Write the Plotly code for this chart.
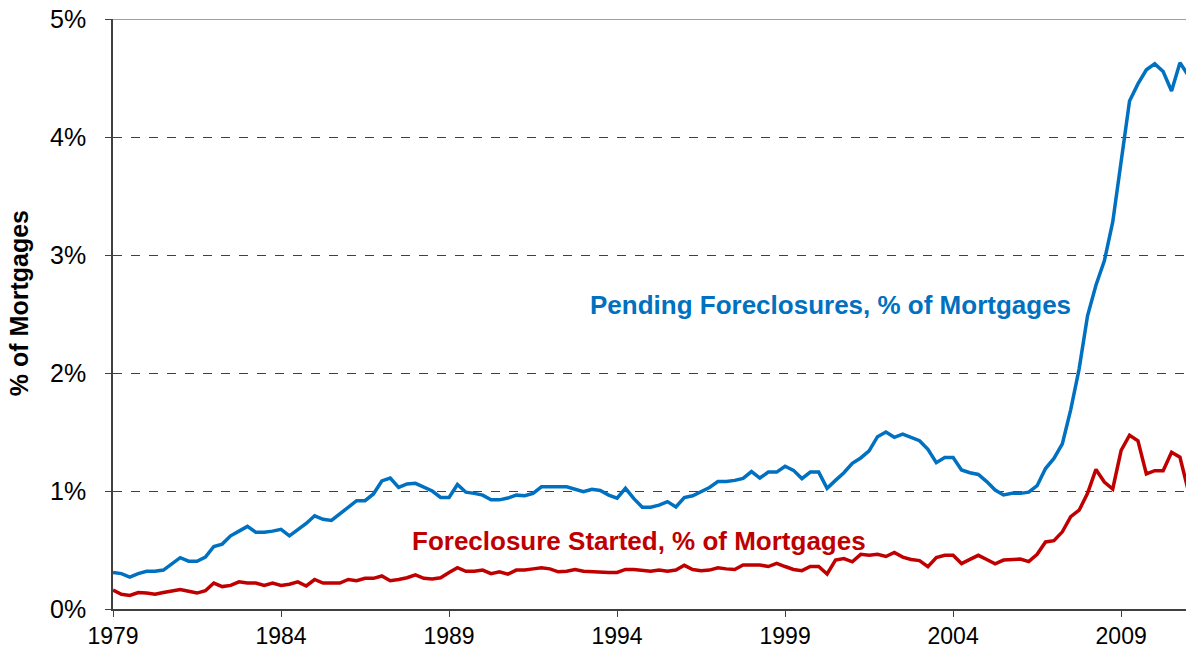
"""Pending foreclosures vs. foreclosures started, % of mortgages (quarterly)."""

import plotly.graph_objects as go

START_YEAR = 1979

# quarterly values, % of mortgages, 1979Q1 onward
pending = [
    0.31, 0.30, 0.27, 0.30, 0.32, 0.32, 0.33, 0.38, 0.435, 0.405,
    0.405, 0.44, 0.53, 0.55, 0.62, 0.66, 0.70, 0.65, 0.65, 0.66,
    0.675, 0.62, 0.675, 0.725, 0.79, 0.76, 0.75, 0.805, 0.867, 0.918,
    0.918, 0.975, 1.085, 1.11, 1.03, 1.06, 1.065, 1.03, 1.0, 0.945,
    0.945, 1.055, 0.99, 0.98, 0.965, 0.925, 0.925, 0.94, 0.965, 0.96,
    0.98, 1.035, 1.035, 1.035, 1.035, 1.015, 0.995, 1.015, 1.005, 0.965,
    0.94, 1.023, 0.935, 0.862, 0.862, 0.88, 0.91, 0.865, 0.945, 0.96,
    0.995, 1.03, 1.08, 1.08, 1.09, 1.107, 1.165, 1.11, 1.16, 1.16,
    1.21, 1.175, 1.105, 1.16, 1.16, 1.023, 1.09, 1.155, 1.235, 1.28,
    1.34, 1.46, 1.50, 1.455, 1.483, 1.455, 1.426, 1.353, 1.24, 1.283,
    1.283, 1.178, 1.155, 1.14, 1.08, 1.008, 0.966, 0.98, 0.98, 0.99,
    1.045, 1.19, 1.276, 1.40, 1.69, 2.035, 2.485, 2.744, 2.95, 3.28,
    3.80, 4.305, 4.45, 4.57, 4.62, 4.555, 4.39, 4.63, 4.52,
]

started = [
    0.16, 0.125, 0.115, 0.14, 0.135, 0.125, 0.14, 0.15, 0.165, 0.15,
    0.135, 0.155, 0.22, 0.19, 0.20, 0.23, 0.22, 0.22, 0.20, 0.22,
    0.20, 0.21, 0.23, 0.195, 0.25, 0.22, 0.22, 0.22, 0.25, 0.24,
    0.26, 0.26, 0.28, 0.24, 0.25, 0.265, 0.29, 0.26, 0.255, 0.265,
    0.31, 0.35, 0.32, 0.32, 0.33, 0.30, 0.315, 0.295, 0.33, 0.33,
    0.34, 0.35, 0.34, 0.315, 0.32, 0.335, 0.32, 0.315, 0.31, 0.31,
    0.31, 0.335, 0.335, 0.33, 0.32, 0.33, 0.32, 0.33, 0.37, 0.335,
    0.325, 0.33, 0.35, 0.34, 0.335, 0.373, 0.373, 0.373, 0.36, 0.387,
    0.36, 0.335, 0.325, 0.36, 0.36, 0.297, 0.415, 0.427, 0.40, 0.463,
    0.455, 0.463, 0.445, 0.48, 0.44, 0.42, 0.41, 0.358, 0.435, 0.455,
    0.455, 0.385, 0.42, 0.455, 0.42, 0.383, 0.415, 0.42, 0.423, 0.402,
    0.464, 0.568, 0.579, 0.654, 0.782, 0.837, 0.98, 1.183, 1.076, 1.017,
    1.345, 1.473, 1.425, 1.145, 1.172, 1.172, 1.328, 1.286, 1.0,
]

year_ticks = [1979, 1984, 1989, 1994, 1999, 2004, 2009]
pct_ticks = [0, 1, 2, 3, 4, 5]
pct_labels = ["0%", "1%", "2%", "3%", "4%", "5%"]

BLUE = "#0070C0"
RED = "#C00000"
FONT = "Liberation Sans, Arial, sans-serif"

quarters = [START_YEAR + q / 4 for q in range(len(pending))]

fig = go.Figure()
fig.add_trace(go.Scatter(x=quarters, y=pending, mode="lines",
                         line=dict(color=BLUE, width=3.5), showlegend=False))
fig.add_trace(go.Scatter(x=quarters, y=started, mode="lines",
                         line=dict(color=RED, width=3.5), showlegend=False))

fig.add_annotation(x=2000.34, y=2.576, text="<b>Pending Foreclosures, % of Mortgages</b>",
                   showarrow=False, font=dict(color=BLUE, size=26, family=FONT))
fig.add_annotation(x=1994.65, y=0.576, text="<b>Foreclosure Started, % of Mortgages</b>",
                   showarrow=False, font=dict(color=RED, size=26, family=FONT))

# y-axis title placed by hand, far left like the original
fig.add_annotation(xref="paper", yref="paper", x=-0.0875, y=0.5186,
                   text="<b>% of Mortgages</b>", textangle=-90, showarrow=False,
                   xanchor="center", yanchor="middle",
                   font=dict(size=25, family=FONT, color="black"))

# solid line along the top of the plot area
fig.add_shape(type="line", xref="paper", yref="y", x0=0, x1=1, y0=5, y1=5,
              line=dict(color="#404040", width=1))

fig.update_layout(
    width=1186, height=650,
    margin=dict(l=113, r=0, t=19, b=41, autoexpand=False),
    plot_bgcolor="white", paper_bgcolor="white",
    font=dict(family=FONT, size=23, color="black"),
)
fig.update_xaxes(
    range=[START_YEAR, 2010.93], tickvals=year_ticks, ticks="outside",
    ticklen=6, tickcolor="#404040", showgrid=False, zeroline=False,
    showline=True, linecolor="#404040", linewidth=1.5, automargin=False,
    ticklabeloverflow="allow",
)
fig.update_yaxes(
    range=[0, 5], tickvals=pct_ticks, ticktext=pct_labels, ticks="outside",
    ticklen=6, tickcolor="#404040", showline=True, linecolor="#404040",
    linewidth=1.5, zeroline=False, showgrid=True, gridcolor="#404040",
    gridwidth=1, griddash="dash", ticklabelstandoff=14, automargin=False,
    tickfont=dict(size=25), ticklabeloverflow="allow",
)

# drop the default 8px page margin so the figure fills the window exactly
fig.write_html("out.html", config={"displayModeBar": False},
               post_script="document.body.style.margin='0';")
